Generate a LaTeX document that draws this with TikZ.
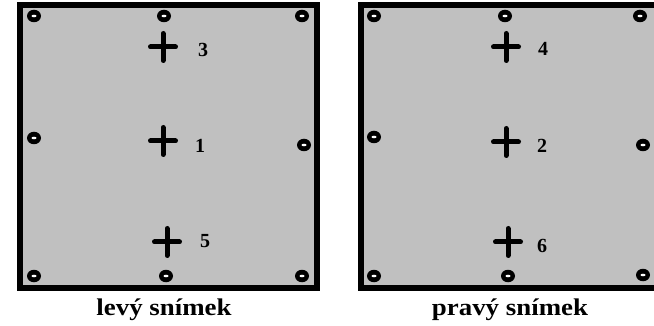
\documentclass[tikz,border=0pt]{standalone}
\usepackage{fontspec}
\setmainfont{Liberation Serif}
\usetikzlibrary{shapes.geometric}
\definecolor{panelgray}{RGB}{192,192,192}
\tikzset{
  frame/.style={draw=black, line width=6pt, fill=panelgray},
  hole/.style={ellipse, fill=black, minimum width=14pt, minimum height=12.5pt, inner sep=0pt,
    path picture={\fill[white] (path picture bounding box.center) ellipse (2.5pt and 1.3pt);}},
  num/.style={font=\bfseries\fontsize{20}{20}\selectfont, inner sep=0pt},
  caption/.style={font=\bfseries\fontsize{24}{24}\selectfont, inner sep=0pt},
  plus/.pic={\draw[line width=5pt, line cap=round] (-12.5,0) -- (12.5,0) (0,-13.5) -- (0,13.5);}
}
\begin{document}
\begin{tikzpicture}[x=1pt, y=-1pt]
\useasboundingbox (0,0) rectangle (654,326);
\fill[white] (0,0) rectangle (654,326);
\begin{scope}
\clip (0,0) rectangle (654,326);
% left panel
\draw[frame] (20,5) rectangle (317,288);
% right panel
\draw[frame] (361,5) rectangle (665,288);
\end{scope}
% left holes
\node[hole] (l1) at (34,16) {};
\node[hole] (l2) at (164,16) {};
\node[hole] (l3) at (302,16) {};
\node[hole] (l4) at (34,138) {};
\node[hole] (l5) at (304,145) {};
\node[hole] (l6) at (34,276) {};
\node[hole] (l7) at (166,276) {};
\node[hole] (l8) at (302,276) {};
% right holes
\node[hole] (r1) at (374,16) {};
\node[hole] (r2) at (505,16) {};
\node[hole] (r3) at (640,16) {};
\node[hole] (r4) at (374,137) {};
\node[hole] (r5) at (643,145) {};
\node[hole] (r6) at (374,276) {};
\node[hole] (r7) at (508,276) {};
\node[hole] (r8) at (643,275) {};
% crosses
\pic at (163,47) {plus};
\pic at (163,141) {plus};
\pic at (167,242) {plus};
\pic at (506,47) {plus};
\pic at (506,142) {plus};
\pic at (508,242) {plus};
% labels
\node[num] (n3) at (203,50) {3};
\node[num] (n1) at (200,146) {1};
\node[num] (n5) at (205,241) {5};
\node[num] (n4) at (543,49) {4};
\node[num] (n2) at (542,146) {2};
\node[num] (n6) at (542,246) {6};
% captions
\node[caption] (capL) at (164,310) {\scalebox{1.12}[1]{levý snímek}};
\node[caption] (capR) at (510,310) {\scalebox{1.12}[1]{pravý snímek}};
\end{tikzpicture}
\end{document}
